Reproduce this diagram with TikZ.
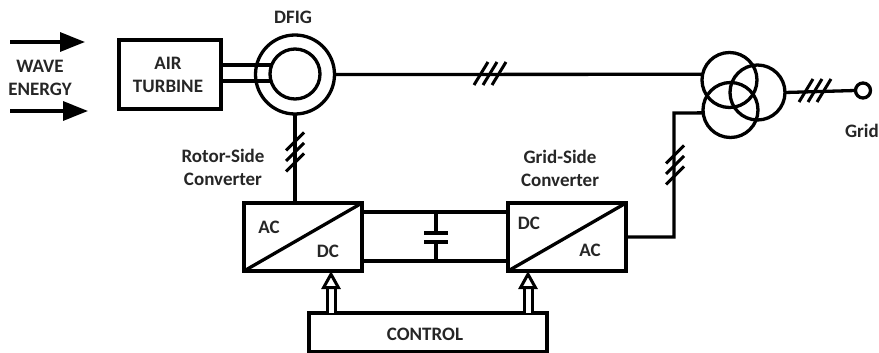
\documentclass[tikz,border=0pt]{standalone}
\usepackage{fontspec}
\setmainfont{Carlito}
\usepackage{tikz}
\usetikzlibrary{arrows.meta}
\tikzset{
  wire/.style={line width=3.3pt},
  tick/.style={line width=3pt},
  blockbox/.style={draw,line width=3.3pt,inner sep=0pt,outer sep=0pt},
  ring/.style={draw,circle,line width=3.3pt,inner sep=0pt,outer sep=0pt,fill=none},
  lbl/.style={font=\bfseries\fontsize{19}{23}\selectfont,text=black!85,align=center,inner sep=0pt},
  waveflow/.style={wire,-{Triangle[length=25pt,width=19pt]}},
  signal/.style={line width=3pt,double,double distance=5pt,-{Triangle[open,fill=white,length=18pt,width=19pt]}}
}
\newcommand{\vhatch}[1]{\foreach \i in {-1,0,1} \draw[tick] (#1) ++(-9,{9+\i*10.5}) -- ++(18,-18);}
\newcommand{\hhatch}[1]{\foreach \i in {-1,0,1} \draw[tick] (#1) ++({-7+\i*9},11) -- ++(14,-23);}
\begin{document}
\begin{tikzpicture}[x=1pt,y=-1pt]
\useasboundingbox (0,0) rectangle (879,353);
\coordinate (w1) at (10,42);
\coordinate (w2) at (85,42);
\coordinate (w3) at (10,111);
\coordinate (w4) at (88,111);
\draw[waveflow] (w1) -- (w2);
\draw[waveflow] (w3) -- (w4);
\node[lbl] (wave) at (40,78) {WAVE\\ENERGY};
\node[blockbox,minimum width=102pt,minimum height=69pt] (air) at (170,74.5) {};
\node[lbl] (airtext) at (168,75) {AIR\\TURBINE};
\node[ring,minimum size=79pt] (stator) at (295,74.5) {};
\node[ring,minimum size=50pt] (rotor) at (295,74) {};
\node[lbl] (dfig) at (293,17) {DFIG};
\coordinate (sha) at ([yshift=9.5pt]air.east);
\coordinate (shb) at ([yshift=-6.5pt]air.east);
\draw[wire] (sha) -- (sha -| rotor.159);
\draw[wire] (shb) -- (shb -| rotor.196);
\node[ring,minimum size=55pt] (tra) at (729.5,80) {};
\node[ring,minimum size=55pt] (trb) at (757.5,92.5) {};
\node[ring,minimum size=55pt] (trc) at (730.5,110) {};
\node[ring,minimum size=15pt] (grid) at (863,90.5) {};
\node[lbl] (gridtext) at (862,131) {Grid};
\node[blockbox,minimum width=118pt,minimum height=68pt] (rsc) at (303,237) {};
\node[blockbox,minimum width=118pt,minimum height=68pt] (gsc) at (567,237) {};
\node[blockbox,minimum width=238pt,minimum height=39pt] (ctrl) at (428,332.5) {};
\node[lbl] (ctrltext) at (425,334) {CONTROL};
\node[lbl] (rsctext) at (223,167) {Rotor-Side\\Converter};
\node[lbl] (gsctext) at (560,168) {Grid-Side\\Converter};
\node[lbl] (rac) at (269,227) {AC};
\node[lbl] (rdc) at (328,251) {DC};
\node[lbl] (gdc) at (529,223) {DC};
\node[lbl] (gac) at (590,250) {AC};
\draw[wire] (rsc.south west) -- (rsc.north east);
\draw[wire] (gsc.south west) -- (gsc.north east);
\draw[wire] (stator.east) -- (tra.168);
\draw[wire] (trb.east) -- (grid.west);
\coordinate (bend) at (674,113);
\coordinate (gout) at (gsc.east);
\draw[wire] (trc.186) -- (bend) -- (gout -| bend) -- (gout);
\draw[wire] (stator.south) -- (rsc.north -| stator.south);
\draw[wire] ([yshift=25pt]rsc.east) -- ([yshift=25pt]gsc.west);
\draw[wire] ([yshift=-24pt]rsc.east) -- ([yshift=-24pt]gsc.west);
\coordinate (captop) at (436,212);
\coordinate (capa) at (436,233);
\coordinate (capb) at (436,242);
\coordinate (capbot) at (436,261);
\draw[wire] (captop) -- (capa);
\draw[wire] (capb) -- (capbot);
\draw[wire] ([xshift=-12pt]capa) -- ([xshift=12pt]capa);
\draw[wire] ([xshift=-12pt]capb) -- ([xshift=12pt]capb);
\coordinate (tipa) at ([xshift=28pt]rsc.south);
\coordinate (tipb) at ([xshift=-39pt]gsc.south);
\draw[signal] (ctrl.north -| tipa) -- (tipa);
\draw[signal] (ctrl.north -| tipb) -- (tipb);
\coordinate (h1) at (295,152);
\coordinate (h2) at (490,74);
\coordinate (h3) at (815,91);
\coordinate (h4) at (675,165);
\vhatch{h1}
\hhatch{h2}
\hhatch{h3}
\vhatch{h4}
\end{tikzpicture}
\end{document}
